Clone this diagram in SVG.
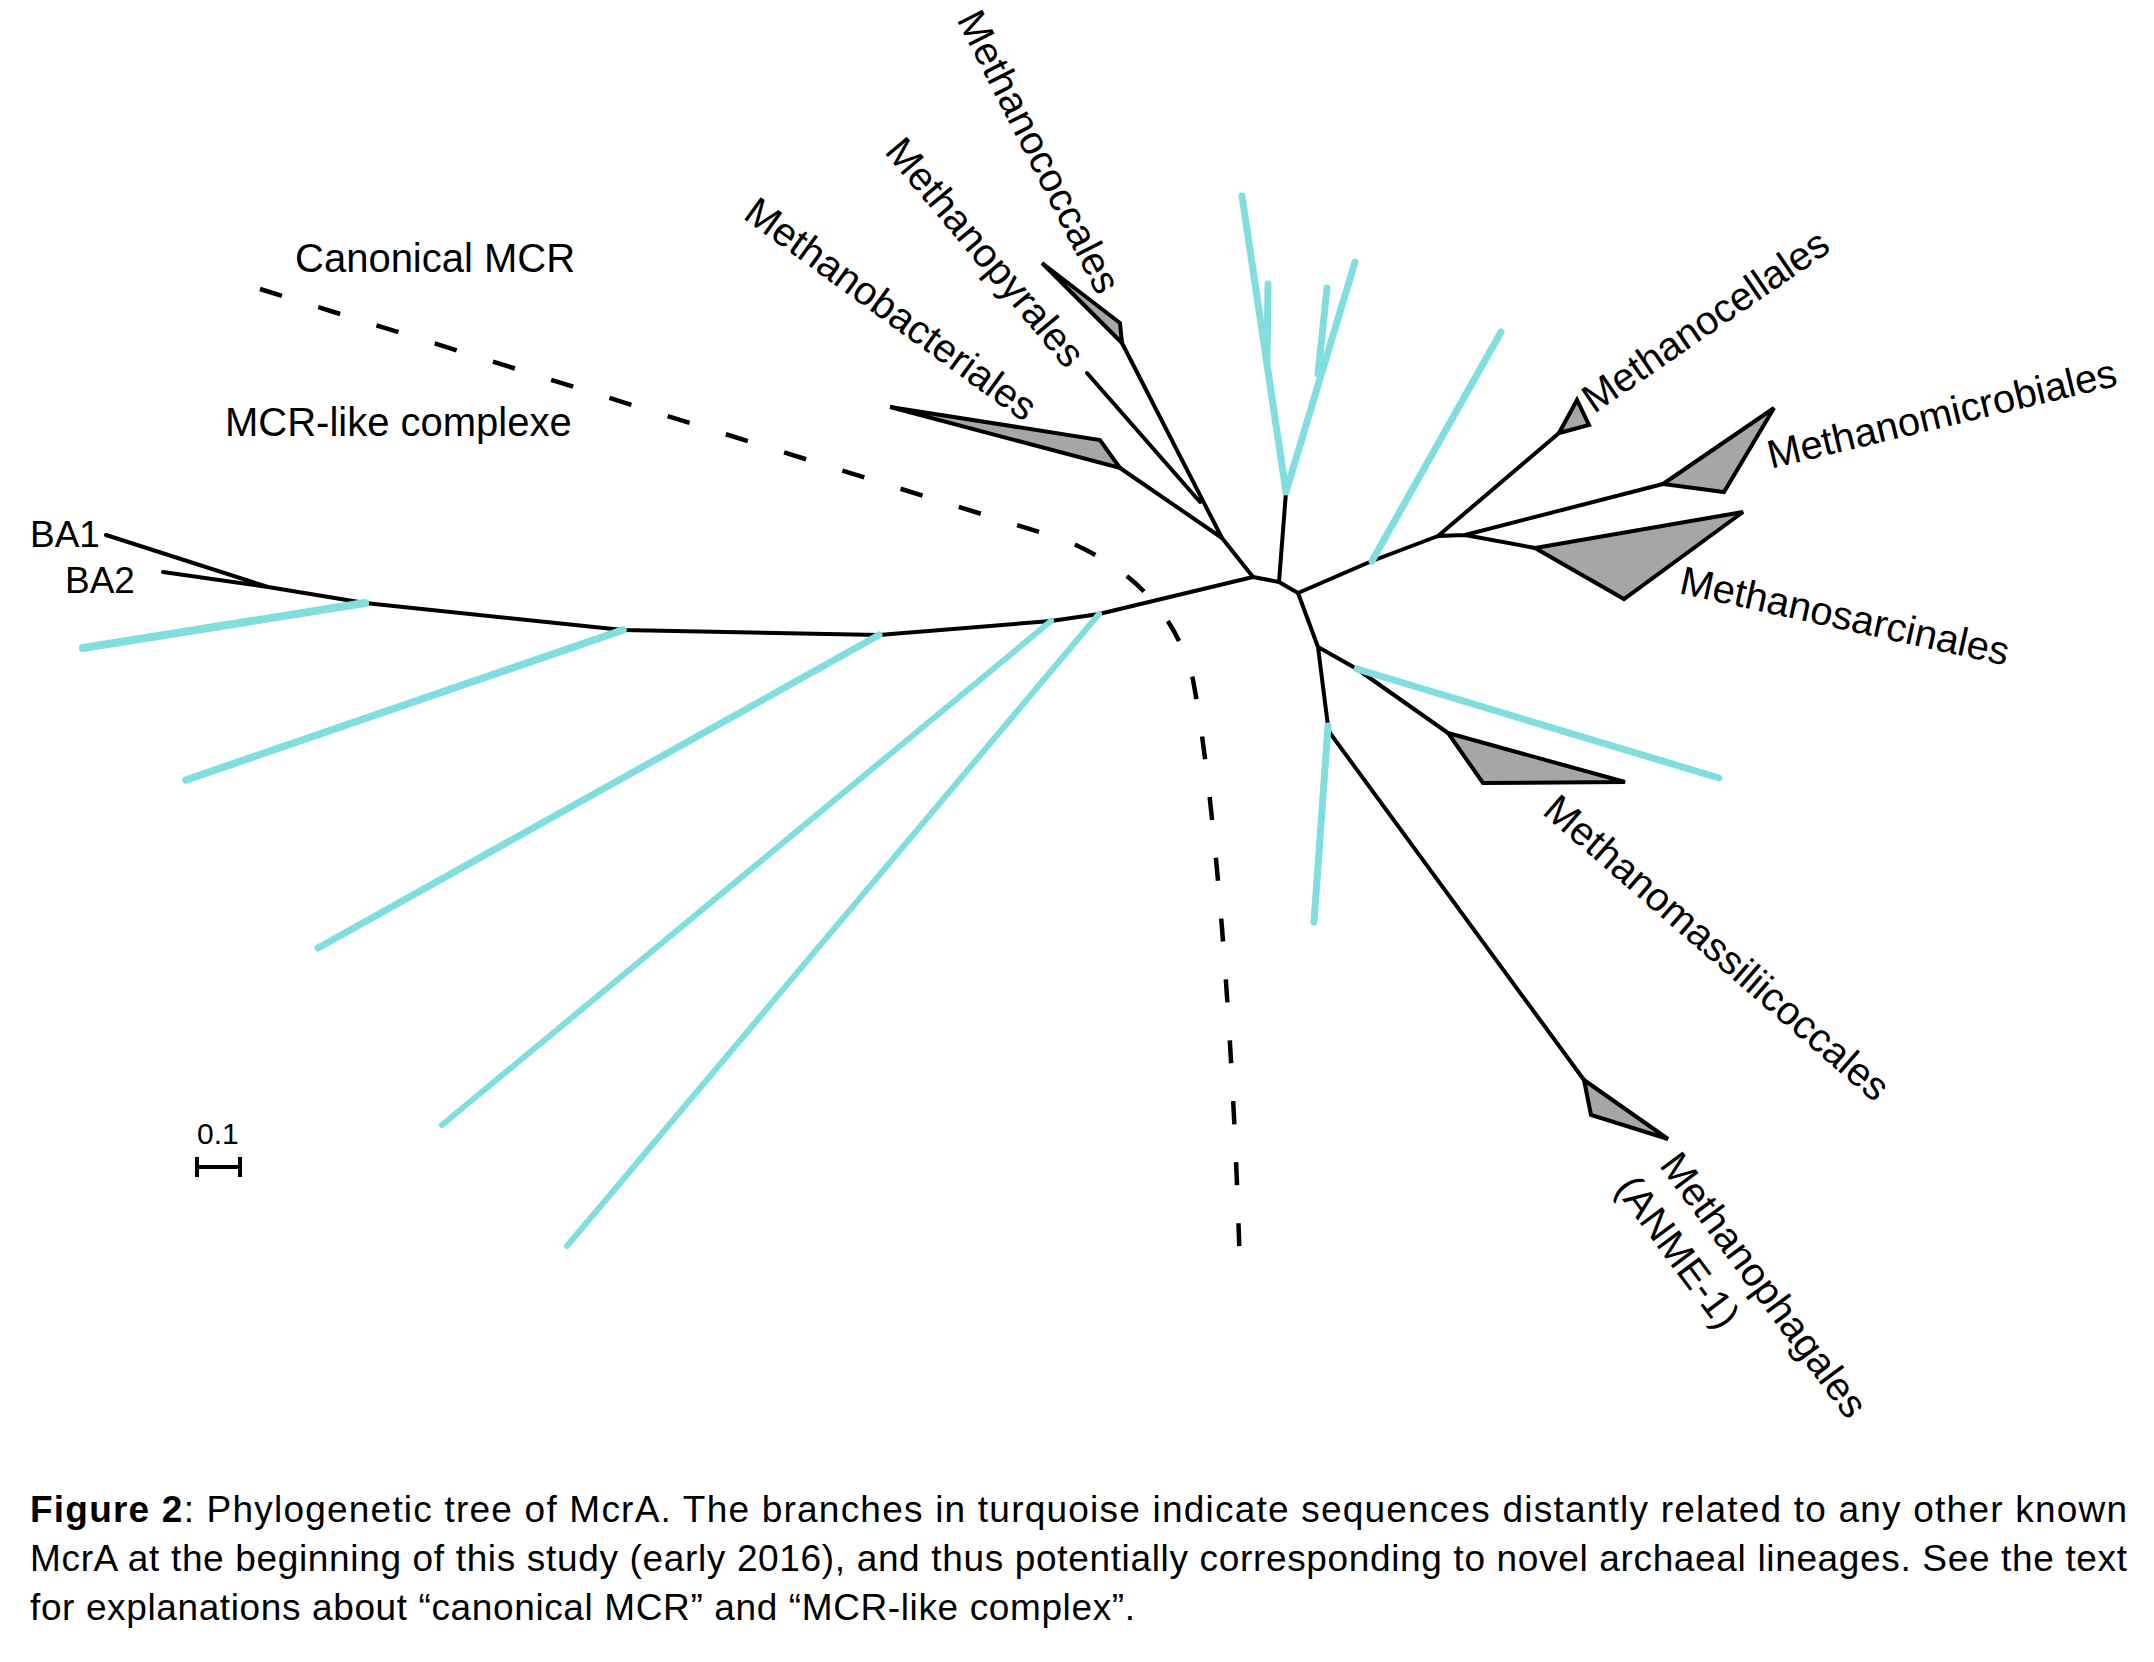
<svg xmlns="http://www.w3.org/2000/svg" width="2154" height="1662" viewBox="0 0 2154 1662">
<style>
.lbl{font-family:"Liberation Sans",Arial,sans-serif;font-size:40px;fill:#000}
.cap{font-family:"Liberation Sans",Arial,sans-serif;font-size:37px;fill:#000}
.br{fill:none;stroke:#000;stroke-width:4;stroke-linecap:round;stroke-linejoin:round}
.cy{fill:none;stroke:#80dede;stroke-linecap:round;stroke-linejoin:round}
.tri{fill:#a6a6a6;stroke:#000;stroke-width:4;stroke-linejoin:miter}
.dash{fill:none;stroke:#000;stroke-width:4.5;stroke-dasharray:23 38}
</style>
<rect width="2154" height="1662" fill="#fff"/>

<g id="connectors">
  <!-- dashed separator -->
  <path class="dash" d="M260,289 L1065,540 C1140,572 1178,620 1193,680 C1212,780 1232,1000 1240,1270"/>
  <!-- backbone left -->
  <path class="br" d="M106,535 L268,587 M163,572 L268,587 L365,603 L623,630 L879,635 L1051,621 L1099,614 L1253,577"/>
  <!-- hub -->
  <path class="br" d="M1253,577 L1279,582 L1298,593"/>
  <!-- upper-left clade -->
  <path class="br" d="M1253,577 L1222,538 L1120,468 M1222,538 L1122,343 M1200,502 L1087,373"/>
  <!-- cyan cluster stem -->
  <path class="br" d="M1279,582 L1286,492"/>
  <!-- right clade -->
  <path class="br" d="M1298,593 L1372,561 L1438,536 L1559,433 M1438,536 L1465,535 L1663,484 M1465,535 L1535,548"/>
  <!-- lower clade -->
  <path class="br" d="M1298,593 L1318,647 L1357,669 L1448,733 M1318,647 L1328,726 L1330,733 L1584,1080"/>
  <!-- turquoise branches -->
  <path class="cy" stroke-width="8" d="M365,603 L83,648"/>
  <path class="cy" stroke-width="7.5" d="M623,630 L186,780"/>
  <path class="cy" stroke-width="7" d="M879,635 L318,948"/>
  <path class="cy" stroke-width="6" d="M1051,621 L442,1125"/>
  <path class="cy" stroke-width="6" d="M1099,614 L567,1246"/>
  <path class="cy" stroke-width="7" d="M1286,492 L1242,196 M1267,365 L1268,284 M1286,492 L1355,262 M1318,374 L1327,288"/>
  <path class="cy" stroke-width="7" d="M1372,561 L1501,332"/>
  <path class="cy" stroke-width="7" d="M1357,669 L1719,778"/>
  <path class="cy" stroke-width="7" d="M1328,726 L1314,922"/>
</g>

<g id="Methanococcales">
  <polygon class="tri" points="1122,343 1120,323 1042,263"/>
  <text class="lbl" text-anchor="middle" transform="translate(1027,158) rotate(63)">Methanococcales</text>
</g>
<g id="Methanopyrales">
  <text class="lbl" text-anchor="middle" transform="translate(975,261) rotate(50)">Methanopyrales</text>
</g>
<g id="Methanobacteriales">
  <polygon class="tri" points="1120,468 1100,440 890,407"/>
  <text class="lbl" text-anchor="middle" transform="translate(883,320) rotate(36)">Methanobacteriales</text>
</g>
<g id="Methanocellales">
  <polygon class="tri" points="1559,433 1577,400 1589,425"/>
  <text class="lbl" transform="translate(1594,414) rotate(-34.5)">Methanocellales</text>
</g>
<g id="Methanomicrobiales">
  <polygon class="tri" points="1663,484 1774,408 1724,492"/>
  <text class="lbl" text-anchor="middle" transform="translate(1945,427) rotate(-13.5)">Methanomicrobiales</text>
</g>
<g id="Methanosarcinales">
  <polygon class="tri" points="1535,548 1743,512 1624,599"/>
  <text class="lbl" transform="translate(1678,593) rotate(12.5)">Methanosarcinales</text>
</g>
<g id="Methanomassiliicoccales">
  <polygon class="tri" points="1448,733 1625,782 1483,783"/>
  <text class="lbl" text-anchor="middle" transform="translate(1708,958) rotate(41)">Methanomassiliicoccales</text>
</g>
<g id="Methanophagales">
  <polygon class="tri" points="1584,1080 1668,1139 1591,1115"/>
  <text class="lbl" text-anchor="middle" transform="translate(1753,1293) rotate(53.5)">Methanophagales</text>
  <text class="lbl" text-anchor="middle" transform="translate(1667,1260) rotate(53.5)">(ANME-1)</text>
</g>
<g id="BA1"><text class="lbl" style="font-size:37px" x="30" y="547">BA1</text></g>
<g id="BA2"><text class="lbl" style="font-size:37px" x="65" y="593">BA2</text></g>
<g id="canonical"><text class="lbl" x="295" y="272">Canonical MCR</text></g>
<g id="mcrlike"><text class="lbl" x="225" y="436">MCR-like complexe</text></g>

<g id="scalebar">
  <text class="lbl" style="font-size:30px" x="197" y="1144">0.1</text>
  <path class="br" d="M197,1167 L240,1167 M197,1157 L197,1177 M240,1157 L240,1177" style="stroke-linecap:butt"/>
</g>

<g id="caption">
  <text class="cap" x="30" y="1522" textLength="2097"><tspan font-weight="bold">Figure 2</tspan>: Phylogenetic tree of McrA. The branches in turquoise indicate sequences distantly related to any other known</text>
  <text class="cap" x="30" y="1571" textLength="2097">McrA at the beginning of this study (early 2016), and thus potentially corresponding to novel archaeal lineages. See the text</text>
  <text class="cap" x="30" y="1620" textLength="1105">for explanations about “canonical MCR” and “MCR-like complex”.</text>
</g>
</svg>
